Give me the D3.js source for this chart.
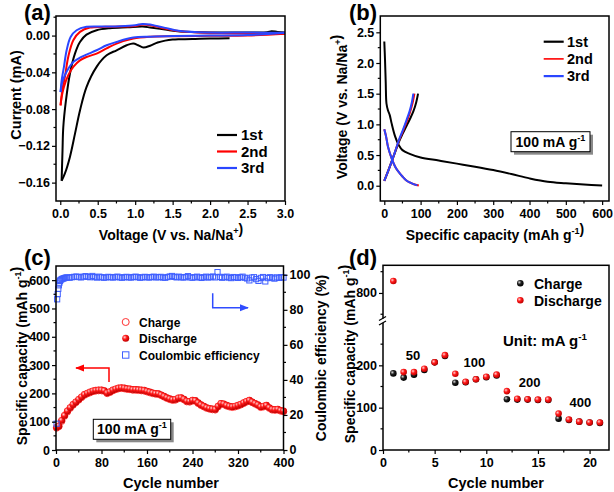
<!DOCTYPE html>
<html><head><meta charset="utf-8">
<script src="https://cdn.jsdelivr.net/npm/d3@7"></script>
<style>
body{margin:0;background:#fff}
svg{display:block;font-family:"Liberation Sans",Arial,sans-serif;font-weight:bold}
</style></head><body>
<svg id="fig" width="614" height="492"></svg>
<script>
// ---------- (a) CV data: [voltage V, current mA] ----------
const cv1Cathodic = [[2.26,-0.003],[2.0,-0.0033],[1.8,-0.0036],[1.6,-0.004],[1.5,-0.0044],[1.4,-0.0055],[1.3,-0.0075],[1.2,-0.011],[1.11,-0.013],[1.04,-0.0105],[0.975,-0.0085],[0.886,-0.0105],[0.752,-0.016],[0.619,-0.0215],[0.485,-0.034],[0.35,-0.056],[0.263,-0.0815],[0.196,-0.107],[0.129,-0.132],[0.062,-0.15],[0.018,-0.158]];
const cv1Anodic = [[0.018,-0.158],[0.03,-0.125],[0.04,-0.1],[0.076,-0.0705],[0.129,-0.0415],[0.196,-0.0196],[0.263,-0.0069],[0.35,0.001],[0.485,0.0058],[0.663,0.008],[0.9,0.009],[1.1,0.0098],[1.2,0.0088],[1.4,0.0065],[1.6,0.0044],[2.0,0.0033],[2.5,0.0034],[2.76,0.0036],[2.82,0.0048],[2.9,0.004],[3.0,0.0033]];
const cv2Cathodic = [[3.0,0.002],[2.5,0.0],[2.0,-0.0003],[1.5,-0.0007],[1.2,-0.0013],[0.975,-0.0033],[0.752,-0.0087],[0.619,-0.014],[0.485,-0.0196],[0.35,-0.0233],[0.263,-0.027],[0.174,-0.034],[0.107,-0.043],[0.049,-0.056],[0.018,-0.067],[0.004,-0.076]];
const cv2Anodic = [[0.004,-0.076],[0.03,-0.058],[0.062,-0.045],[0.107,-0.023],[0.174,-0.005],[0.263,0.004],[0.396,0.0087],[0.6,0.0095],[0.8,0.0098],[1.0,0.0105],[1.1,0.012],[1.2,0.0113],[1.3,0.0095],[1.4,0.0076],[1.6,0.0047],[2.0,0.003],[2.5,0.0025],[3.0,0.002]];
const cv3Cathodic = [[3.0,0.003],[2.5,0.0005],[2.0,0.0],[1.5,-0.0005],[1.2,-0.0012],[0.975,-0.0022],[0.752,-0.0069],[0.619,-0.0105],[0.485,-0.016],[0.35,-0.0207],[0.263,-0.024],[0.174,-0.0287],[0.107,-0.036],[0.062,-0.043],[0.022,-0.052],[0.004,-0.0615]];
const cv3Anodic = [[0.004,-0.0615],[0.02,-0.048],[0.049,-0.034],[0.085,-0.016],[0.138,-0.0015],[0.218,0.0058],[0.35,0.0095],[0.6,0.0098],[0.8,0.0102],[1.0,0.0113],[1.1,0.0127],[1.2,0.012],[1.3,0.0102],[1.4,0.0084],[1.6,0.005],[2.0,0.0033],[2.5,0.0033],[3.0,0.003]];
const cvLabels = ["1st","2nd","3rd"];
const cvTicksX = [0,0.5,1,1.5,2,2.5,3];
const cvTicksY = [0,-0.04,-0.08,-0.12,-0.16];

// ---------- (b) charge/discharge profiles: [capacity mAh/g, voltage V] ----------
const gcd1Discharge = [[0,2.35],[2,2.05],[4,1.67],[6,1.34],[10,1.23],[15,1.15],[20,1.02],[30,0.8],[40,0.66],[50,0.58],[70,0.52],[100,0.46],[150,0.41],[200,0.36],[250,0.31],[300,0.255],[350,0.19],[400,0.12],[450,0.065],[500,0.04],[550,0.02],[600,0.005]];
const gcd1Charge = [[0,0.08],[10,0.23],[20,0.39],[30,0.55],[40,0.71],[50,0.84],[60,0.96],[70,1.08],[80,1.21],[88,1.36],[93,1.5]];
const gcd2Discharge = [[0,0.92],[5,0.8],[10,0.64],[20,0.45],[30,0.31],[40,0.22],[50,0.15],[60,0.09],[70,0.054],[80,0.027],[95,0.003]];
const gcd2Charge = [[0,0.08],[10,0.23],[20,0.39],[30,0.56],[40,0.73],[50,0.87],[60,1.02],[70,1.18],[78,1.35],[83,1.5]];
const gcd3Discharge = [[0,0.92],[5,0.8],[10,0.64],[20,0.45],[30,0.31],[40,0.22],[50,0.15],[60,0.09],[70,0.054],[80,0.027],[91,0.005]];
const gcd3Charge = [[0,0.08],[10,0.23],[20,0.39],[30,0.56],[40,0.74],[50,0.89],[60,1.05],[70,1.22],[76,1.36],[80,1.5]];
const gcdTicksX = [0,100,200,300,400,500,600];
const gcdTicksY = [0,0.5,1,1.5,2,2.5];

// ---------- (c) long cycling at 100 mA/g ----------
const cycC = [1,5,10,15,20,25,30,35,40,45,50,55,60,65,70,75,80,85,90,95,100,105,110,115,120,125,130,135,140,145,150,155,160,165,170,175,180,185,190,195,200,205,210,215,220,225,230,235,240,245,250,255,260,265,270,275,280,285,290,295,300,305,310,315,320,325,330,335,340,345,350,355,360,365,370,375,380,385,390,395,400];
const dischargeC = [80,85,105,122,138,150,161,170,179,188,196,201,205,209,211,212,212,210,202,206,212,216,219,220,219,217,216,214,214,213,212,211,208,205,202,200,199,195,190,185,181,178,179,184,185,180,173,172,176,175,167,160,155,150,147,145,144,155,165,163,158,155,153,155,158,162,167,172,176,170,165,160,153,155,158,150,144,143,144,140,138];
const chargeC = [78,83,102,120,135,148,159,168,177,186,194,199,203,207,209,210,210,208,200,204,210,214,217,218,217,215,214,212,212,211,210,209,206,203,200,198,197,193,188,183,179,176,177,182,183,178,171,170,174,173,165,158,153,148,145,143,142,153,163,161,156,153,151,153,156,160,165,170,174,168,163,158,151,153,156,148,142,141,142,138,136];
const ceCyc = [1,2,3,4,5,6,7,8,10,12,14,16,18,20,24,28,32,36,40,44,48,52,56,60,64,68,72,76,80,84,88,92,96,100,104,108,112,116,120,124,128,132,136,140,144,148,152,156,160,164,168,172,176,180,184,188,192,196,200,204,208,212,216,220,224,228,232,236,240,244,248,252,256,260,264,268,272,276,280,284,288,292,296,300,304,308,312,316,320,324,328,332,336,340,344,348,352,356,360,364,368,372,376,380,384,388,392,396,400];
const ceVal = [15,86,89,92,94,95.5,96.5,97,97.5,97.8,98,98.2,98.4,98.5,98.3,98.6,98.8,99,98.7,98.5,98.9,99.2,98.8,98.6,99.3,98.7,98.4,98.9,98.6,98.3,98.5,98.8,98.6,98.4,98.7,98.9,98.5,98.3,98.6,98.8,98.5,98.4,98.7,98.9,98.6,98.3,98.5,98.8,98.6,98.4,98.7,98.9,98.5,98.6,98.8,98.4,98.3,98.7,99,99.3,98.8,98.5,98.9,98.6,98.4,98.7,99.2,98.5,98.3,98.6,98.9,98.5,98.2,98.6,98.9,98.4,98.7,99,98.5,101.5,98.8,98.3,98.6,98.9,98.4,98.1,98.7,98.5,98.2,98.6,98.9,98.3,97.9,96.8,98.4,98.6,97.5,96.5,98.2,98.7,96.2,98.1,98.6,98.3,97.8,98.5,98.2,98.6,98.4];
const cTicksX = [0,80,160,240,320,400];
const cTicksYL = [0,100,200,300,400,500,600];
const cTicksYR = [0,20,40,60,80,100];
const cLegend = ["Charge","Discharge","Coulombic efficiency"];

// ---------- (d) rate capability ----------
const cycD = [1,2,3,4,5,6,7,8,9,10,11,12,13,14,15,16,17,18,19,20,21];
const chargeD = [181,171,178,189,207,222,159,160,167,172,176,120,119,119,118,118,74,71,67,65,64];
const dischargeD = [828,184,184,192,207,224,180,161,167,173,178,139,121,120,119,119,86,72,67,65,65];
const rateLabels = ["50","100","200","400"];
const dTicksX = [0,5,10,15,20];
const dTicksYLow = [0,100,200];
const dTicksYHigh = [800];

// ================= drawing =================
const svg = d3.select("#fig");
const defs = svg.append("defs");
function ballGrad(id, light, mid, dark){
  const g = defs.append("radialGradient").attr("id",id).attr("cx","35%").attr("cy","35%").attr("r","65%");
  g.append("stop").attr("offset","0%").attr("stop-color",light);
  g.append("stop").attr("offset","45%").attr("stop-color",mid);
  g.append("stop").attr("offset","100%").attr("stop-color",dark);
}
ballGrad("gRed","#ffd0d0","#ff1a1a","#c00000");
ballGrad("gBlack","#d8d8d8","#202020","#000000");
defs.append("marker").attr("id","arrR").attr("viewBox","0 0 10 10").attr("refX",9).attr("refY",5)
  .attr("markerWidth",6).attr("markerHeight",6).attr("orient","auto-start-reverse")
  .append("path").attr("d","M0,1 L10,5 L0,9 z").attr("fill","#ff0000");
defs.append("marker").attr("id","arrB").attr("viewBox","0 0 10 10").attr("refX",9).attr("refY",5)
  .attr("markerWidth",6).attr("markerHeight",6).attr("orient","auto-start-reverse")
  .append("path").attr("d","M0,1 L10,5 L0,9 z").attr("fill","#2f4cff");

const RED="#ff0000", BLUE="#2a46ff", BLACK="#000";
const TICKFONT = 12.5;

function minorTicks(g, scale, vals, orient, size){
  vals.forEach(v=>{
    const p = scale(v);
    if(orient==="bottom") g.append("line").attr("x1",p).attr("x2",p).attr("y1",0).attr("y2",size);
    if(orient==="left") g.append("line").attr("y1",p).attr("y2",p).attr("x1",0).attr("x2",-size);
    if(orient==="right") g.append("line").attr("y1",p).attr("y2",p).attr("x1",0).attr("x2",size);
  });
  g.selectAll("line").attr("stroke","#000").attr("stroke-width",1.2);
}
function styleAxis(g){
  g.selectAll(".domain").remove();
  g.selectAll(".tick line").attr("stroke","#000").attr("stroke-width",1.2);
  g.selectAll("text").attr("font-size",TICKFONT).attr("font-weight","bold").attr("fill","#000")
    .attr("font-family","'Liberation Sans',Arial,sans-serif");
}
function frame(L,T,R,B){
  svg.append("rect").attr("x",L).attr("y",T).attr("width",R-L).attr("height",B-T)
    .attr("fill","none").attr("stroke","#000").attr("stroke-width",1.5);
}
function sup(textSel, parts){
  parts.forEach(p=>{
    if(p.sup){
      textSel.append("tspan").attr("dy",-6).attr("font-size","0.65em").text(p.t);
      textSel.append("tspan").attr("dy",6).text("");
    } else textSel.append("tspan").text(p.t);
  });
}
function title(x,y,rot,parts,size){
  const t = svg.append("text").attr("text-anchor","middle").attr("font-size",size||14)
    .attr("transform",`translate(${x},${y})${rot?" rotate(-90)":""}`);
  sup(t, parts);
  return t;
}
function panelLabel(x,y,s){
  svg.append("text").attr("x",x).attr("y",y).attr("font-size",22).text(s);
}
function shadowBox(x,y,w,h,parts){
  svg.append("rect").attr("x",x+3).attr("y",y+3).attr("width",w).attr("height",h).attr("fill","#8a8a8a");
  svg.append("rect").attr("x",x).attr("y",y).attr("width",w).attr("height",h).attr("fill","#fff").attr("stroke","#000").attr("stroke-width",1);
  const t = svg.append("text").attr("x",x+w/2).attr("y",y+h/2+5).attr("text-anchor","middle").attr("font-size",14);
  sup(t, parts);
}

// ---------- panel (a) ----------
(function(){
  const L=56,T=16,R=285,B=201;
  const x = d3.scaleLinear().domain([-0.057,3.0]).range([L,R]);
  const y = d3.scaleLinear().domain([-0.18,0.0213]).range([B,T]);
  const line = d3.line().x(d=>x(d[0])).y(d=>y(d[1])).curve(d3.curveCatmullRom.alpha(0.5));
  const g = svg.append("g");
  [[cv1Cathodic,BLACK],[cv1Anodic,BLACK],[cv2Cathodic,RED],[cv2Anodic,RED],[cv3Cathodic,BLUE],[cv3Anodic,BLUE]].forEach(([d,c])=>{
    g.append("path").attr("d",line(d)).attr("fill","none").attr("stroke",c).attr("stroke-width",2).attr("stroke-linejoin","round");
  });
  frame(L,T,R,B);
  const ax = svg.append("g").attr("transform",`translate(0,${B})`)
    .call(d3.axisBottom(x).tickValues(cvTicksX).tickFormat(d3.format(".1f")).tickSize(4).tickPadding(4));
  styleAxis(ax);
  minorTicks(ax.append("g"), x, [0.25,0.75,1.25,1.75,2.25,2.75], "bottom", 2.5);
  const ay = svg.append("g").attr("transform",`translate(${L},0)`)
    .call(d3.axisLeft(y).tickValues(cvTicksY).tickFormat(d3.format(".2f")).tickSize(4).tickPadding(2));
  styleAxis(ay);
  minorTicks(ay.append("g"), y, [0.02,-0.02,-0.06,-0.1,-0.14], "left", 2.5);
  [BLACK,RED,BLUE].forEach((c,i)=>{
    const yy = 135 + i*16.5;
    svg.append("line").attr("x1",217).attr("x2",237).attr("y1",yy).attr("y2",yy).attr("stroke",c).attr("stroke-width",2.2);
    svg.append("text").attr("x",241).attr("y",yy+5).attr("font-size",15).text(cvLabels[i]);
  });
  title(21,95,true,[{t:"Current (mA)"}],14.5);
  title(171,240,false,[{t:"Voltage (V vs. Na/Na"},{t:"+",sup:true},{t:")"}],14);
  panelLabel(24,20,"(a)");
})();

// ---------- panel (b) ----------
(function(){
  const L=380.3,T=16,R=609,B=201;
  const x = d3.scaleLinear().domain([-11,618.9]).range([L,R]);
  const y = d3.scaleLinear().domain([-0.249,2.766]).range([B,T]);
  const line = d3.line().x(d=>x(d[0])).y(d=>y(d[1])).curve(d3.curveCatmullRom.alpha(0.5));
  [[gcd1Discharge,BLACK],[gcd1Charge,BLACK],[gcd2Discharge,RED],[gcd2Charge,RED],[gcd3Discharge,BLUE],[gcd3Charge,BLUE]].forEach(([d,c])=>{
    svg.append("path").attr("d",line(d)).attr("fill","none").attr("stroke",c).attr("stroke-width",2);
  });
  frame(L,T,R,B);
  const ax = svg.append("g").attr("transform",`translate(0,${B})`)
    .call(d3.axisBottom(x).tickValues(gcdTicksX).tickSize(4).tickPadding(4));
  styleAxis(ax);
  minorTicks(ax.append("g"), x, [50,150,250,350,450,550], "bottom", 2.5);
  const ay = svg.append("g").attr("transform",`translate(${L},0)`)
    .call(d3.axisLeft(y).tickValues(gcdTicksY).tickFormat(d3.format(".1f")).tickSize(4).tickPadding(2));
  styleAxis(ay);
  minorTicks(ay.append("g"), y, [0.25,0.75,1.25,1.75,2.25], "left", 2.5);
  [BLACK,RED,BLUE].forEach((c,i)=>{
    const yy = 41.7 + i*17.2;
    svg.append("line").attr("x1",543.7).attr("x2",563.7).attr("y1",yy).attr("y2",yy).attr("stroke",c).attr("stroke-width",i===1?1.6:2.2);
    svg.append("text").attr("x",567).attr("y",yy+5).attr("font-size",14.5).text(cvLabels[i]);
  });
  shadowBox(511,131.7,79,20,[{t:"100 mA g"},{t:"-1",sup:true}]);
  title(347,107,true,[{t:"Voltage (V vs. Na/Na"},{t:"+",sup:true},{t:")"}],14);
  title(495,240,false,[{t:"Specific capacity (mAh g"},{t:"-1",sup:true},{t:")"}],14);
  panelLabel(349,20,"(b)");
})();

// ---------- panel (c) ----------
(function(){
  const L=56,T=266,R=283.5,B=450;
  const x = d3.scaleLinear().domain([0,400]).range([L,R]);
  const yL = d3.scaleLinear().domain([0,650]).range([B,T]);
  const yR = d3.scaleLinear().domain([0,105]).range([B,T]);
  const g = svg.append("g");
  g.selectAll(".ch").data(cycC).join("circle").attr("class","ch").attr("cx",d=>x(d)).attr("cy",(d,i)=>yL(chargeC[i])).attr("r",3.3)
    .attr("fill","none").attr("stroke","#ff3030").attr("stroke-width",1);
  g.selectAll(".dc").data(cycC).join("circle").attr("class","dc").attr("cx",d=>x(d)).attr("cy",(d,i)=>yL(dischargeC[i])).attr("r",3.4)
    .attr("fill","url(#gRed)");
  g.selectAll(".ce").data(ceCyc).join("rect").attr("class","ce").attr("x",d=>x(d)-2.6).attr("y",(d,i)=>yR(ceVal[i])-2.6)
    .attr("width",5.2).attr("height",5.2).attr("fill","none").attr("stroke","#3f5fff").attr("stroke-width",1);
  frame(L,T,R,B);
  const ax = svg.append("g").attr("transform",`translate(0,${B})`)
    .call(d3.axisBottom(x).tickValues(cTicksX).tickSize(4).tickPadding(4));
  styleAxis(ax);
  minorTicks(ax.append("g"), x, [40,120,200,280,360], "bottom", 2.5);
  const ay = svg.append("g").attr("transform",`translate(${L},0)`)
    .call(d3.axisLeft(yL).tickValues(cTicksYL).tickSize(4).tickPadding(2));
  styleAxis(ay);
  minorTicks(ay.append("g"), yL, [50,150,250,350,450,550], "left", 2.5);
  const ar = svg.append("g").attr("transform",`translate(${R},0)`)
    .call(d3.axisRight(yR).tickValues(cTicksYR).tickSize(4).tickPadding(2));
  styleAxis(ar);
  ar.selectAll(".tick text").attr("dy","0.28em");
  minorTicks(ar.append("g"), yR, [10,30,50,70,90], "right", 2.5);
  const lx=125.7, ly=[322,338.3,355];
  svg.append("circle").attr("cx",lx).attr("cy",ly[0]).attr("r",3.5).attr("fill","none").attr("stroke","#ff3030").attr("stroke-width",1);
  svg.append("circle").attr("cx",lx).attr("cy",ly[1]).attr("r",3.5).attr("fill","url(#gRed)");
  svg.append("rect").attr("x",lx-3.2).attr("y",ly[2]-3.2).attr("width",6.4).attr("height",6.4).attr("fill","none").attr("stroke","#3f5fff").attr("stroke-width",1);
  cLegend.forEach((s,i)=>svg.append("text").attr("x",139).attr("y",ly[i]+4.5).attr("font-size",12).text(s));
  svg.append("path").attr("d","M109,382 V368 H76").attr("fill","none").attr("stroke","#ff0000").attr("stroke-width",1.5).attr("marker-end","url(#arrR)");
  svg.append("path").attr("d","M212.7,293.3 V307.7 H248").attr("fill","none").attr("stroke","#2f4cff").attr("stroke-width",1.5).attr("marker-end","url(#arrB)");
  shadowBox(93.3,419.3,77.4,20,[{t:"100 mA g"},{t:"-1",sup:true}]);
  title(27,356,true,[{t:"Specific capacity (mAh g"},{t:"-1",sup:true},{t:")"}],14);
  title(326,358,true,[{t:"Coulombic efficiency (%)"}],14);
  title(171,488,false,[{t:"Cycle number"}],14.5);
  panelLabel(24,265,"(c)");
})();

// ---------- panel (d) ----------
(function(){
  const L=383,T=265.3,R=609,B=450;
  const x = d3.scaleLinear().domain([0,21.88]).range([L,R]);
  const yLow = d3.scaleLinear().domain([0,300]).range([B,323]);
  const yHigh = d3.scaleLinear().domain([740,865]).range([318.5,T]);
  const yv = v => v>500 ? yHigh(v) : yLow(v);
  frame(L,T,R,B);
  svg.append("rect").attr("x",L-3).attr("y",318.6).attr("width",6).attr("height",4.2).attr("fill","#fff");
  svg.append("line").attr("x1",L-4).attr("x2",L+3).attr("y1",320.5).attr("y2",316.5).attr("stroke","#000").attr("stroke-width",1.2);
  svg.append("line").attr("x1",L-4).attr("x2",L+3).attr("y1",325).attr("y2",321).attr("stroke","#000").attr("stroke-width",1.2);
  const g = svg.append("g");
  g.selectAll(".cd").data(cycD).join("circle").attr("class","cd").attr("cx",d=>x(d)).attr("cy",(d,i)=>yv(chargeD[i])).attr("r",3.3).attr("fill","url(#gBlack)");
  g.selectAll(".dd").data(cycD).join("circle").attr("class","dd").attr("cx",d=>x(d)).attr("cy",(d,i)=>yv(dischargeD[i])).attr("r",3.3).attr("fill","url(#gRed)");
  const ax = svg.append("g").attr("transform",`translate(0,${B})`)
    .call(d3.axisBottom(x).tickValues(dTicksX).tickSize(4).tickPadding(4));
  styleAxis(ax);
  minorTicks(ax.append("g"), x, [2.5,7.5,12.5,17.5], "bottom", 2.5);
  const ay1 = svg.append("g").attr("transform",`translate(${L},0)`)
    .call(d3.axisLeft(yLow).tickValues(dTicksYLow).tickSize(4).tickPadding(2));
  styleAxis(ay1);
  minorTicks(ay1.append("g"), yLow, [50,150,250], "left", 2.5);
  const ay2 = svg.append("g").attr("transform",`translate(${L},0)`)
    .call(d3.axisLeft(yHigh).tickValues(dTicksYHigh).tickSize(4).tickPadding(2));
  styleAxis(ay2);
  minorTicks(ay2.append("g"), yHigh, [750,850], "left", 2.5);
  svg.append("circle").attr("cx",520.3).attr("cy",283.3).attr("r",3.3).attr("fill","url(#gBlack)");
  svg.append("circle").attr("cx",520.3).attr("cy",300.3).attr("r",3.3).attr("fill","url(#gRed)");
  svg.append("text").attr("x",534).attr("y",288.5).attr("font-size",14).text("Charge");
  svg.append("text").attr("x",534).attr("y",305.5).attr("font-size",14).text("Discharge");
  const ut = svg.append("text").attr("x",503).attr("y",346).attr("font-size",15);
  sup(ut,[{t:"Unit: mA g"},{t:"-1",sup:true}]);
  const pos = [[413,360],[474.3,367],[529.7,387],[580.3,407]];
  rateLabels.forEach((s,i)=>svg.append("text").attr("x",pos[i][0]).attr("y",pos[i][1]).attr("text-anchor","middle").attr("font-size",13).text(s));
  title(355,354,true,[{t:"Specific capacity (mAh g"},{t:"-1",sup:true},{t:")"}],14);
  title(496,488,false,[{t:"Cycle number"}],14.5);
  panelLabel(349,265,"(d)");
})();
</script>
</body></html>
